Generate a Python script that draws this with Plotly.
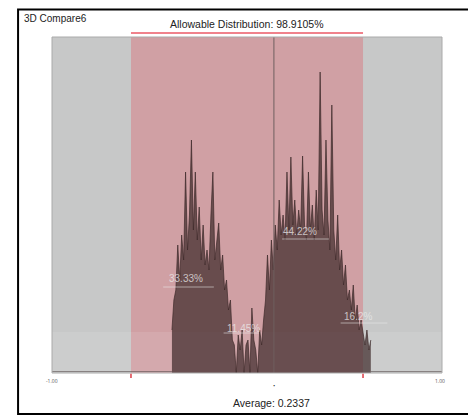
import plotly.graph_objects as go

# ---- data ----
bin_start = -0.385
bin_width = 0.01
counts = [43, 73, 83, 128, 93, 138, 113, 201, 123, 158, 233, 143, 201, 133, 166, 113,
          148, 108, 123, 103, 158, 201, 113, 133, 150, 103, 118, 83, 93, 63, 73, 33,
          28, 0, 38, 23, 43, 0, 28, 33, 0, 65, 33, 23, 0, 43, 28, 53,
          73, 118, 83, 133, 103, 148, 123, 173, 138, 158, 133, 201, 143, 216, 148, 173,
          138, 163, 143, 217, 148, 133, 201, 143, 168, 133, 183, 143, 301, 163, 138, 233,
          153, 123, 268, 143, 113, 158, 103, 123, 88, 108, 73, 83, 63, 88, 53, 68,
          43, 53, 38, 28, 43, 23, 33]
xs = [bin_start + bin_width * i for i in range(len(counts))]

tol_low, tol_high = -0.595, 0.595
marker_x = 0.138
average = 0.2337
allowable = 98.9105
x_min, x_max = -1.0, 1.0
y_max = 336

seg_labels = ["33.33%", "44.22%", "11.45%", "16.2%"]
seg_x = [-0.315, 0.27, -0.02, 0.57]
seg_y = [95, 142, 45, 57]
seg_line_x0 = [-0.43, 0.18, -0.12, 0.48]
seg_line_x1 = [-0.17, 0.42, 0.06, 0.72]
seg_line_y = [86, 134, 40, 50]

fig = go.Figure()

fig.add_trace(go.Scatter(
    x=xs, y=counts, mode="lines", line=dict(color="rgba(60,40,40,0.85)", width=0.8),
    fill="tozeroy", fillcolor="rgba(60,40,40,0.7)", hoverinfo="skip", showlegend=False))

# tails
fig.add_trace(go.Scatter(x=[x_min, bin_start], y=[1.5, 1.5], mode="lines",
                         line=dict(color="rgba(90,80,80,0.6)", width=1), showlegend=False))
fig.add_trace(go.Scatter(x=[xs[-1], x_max], y=[1.5, 1.5], mode="lines",
                         line=dict(color="rgba(90,80,80,0.6)", width=1), showlegend=False))

shapes = [
    dict(type="rect", xref="x", yref="paper", x0=tol_low, x1=tol_high, y0=0, y1=1,
         fillcolor="rgb(208,160,164)", line=dict(width=0), layer="below"),
    dict(type="rect", xref="paper", yref="y", x0=0, x1=1, y0=0, y1=41,
         fillcolor="rgba(255,255,255,0.1)", line=dict(width=0), layer="below"),
    dict(type="line", xref="x", yref="paper", x0=marker_x, x1=marker_x, y0=0, y1=1,
         line=dict(color="rgb(110,95,95)", width=1)),
    dict(type="line", xref="x", yref="paper", x0=tol_low, x1=tol_high, y0=1.012, y1=1.012,
         line=dict(color="rgb(240,130,140)", width=2)),
    dict(type="rect", xref="paper", yref="paper", x0=0, x1=1, y0=0, y1=1,
         line=dict(color="rgb(170,170,170)", width=1)),
    dict(type="rect", xref="paper", yref="paper", x0=-0.087, x1=1.077, y0=-0.122, y1=1.0815,
         line=dict(color="black", width=2)),
    dict(type="line", xref="x", yref="paper", x0=tol_low, x1=tol_low, y0=-0.002, y1=-0.015,
         line=dict(color="rgb(220,60,70)", width=1.5)),
    dict(type="line", xref="x", yref="paper", x0=tol_high, x1=tol_high, y0=-0.002, y1=-0.015,
         line=dict(color="rgb(220,60,70)", width=1.5)),
]
for x0, x1, yy in zip(seg_line_x0, seg_line_x1, seg_line_y):
    shapes.append(dict(type="line", xref="x", yref="y", x0=x0, x1=x1, y0=yy, y1=yy,
                       line=dict(color="rgba(235,235,235,0.55)", width=1)))

annotations = [
    dict(text="3D Compare6", xref="paper", yref="paper", x=-0.077, y=1.077,
         xanchor="left", yanchor="top", showarrow=False,
         font=dict(family="Liberation Sans, Arial", size=10, color="#222")),
    dict(text=f"Allowable Distribution: {allowable}%", xref="x", yref="paper",
         x=0.0, y=1.015, xanchor="center", yanchor="bottom", showarrow=False,
         font=dict(family="Liberation Sans, Arial", size=10.5, color="#222")),
    dict(text=f"Average: {average}", xref="x", yref="paper", x=0.125, y=-0.065,
         xanchor="center", yanchor="top", showarrow=False,
         font=dict(family="Liberation Sans, Arial", size=10.5, color="#222")),
    dict(text="•", xref="x", yref="paper", x=marker_x, y=-0.02,
         xanchor="center", yanchor="top", showarrow=False,
         font=dict(size=6, color="#333")),
    dict(text="-1.00", xref="x", yref="paper", x=x_min, y=-0.01, xanchor="center",
         yanchor="top", showarrow=False, font=dict(size=5, color="#555")),
    dict(text="1.00", xref="x", yref="paper", x=x_max - 0.01, y=-0.01, xanchor="center",
         yanchor="top", showarrow=False, font=dict(size=5, color="#555")),
]
for t, x, y in zip(seg_labels, seg_x, seg_y):
    annotations.append(dict(text=t, xref="x", yref="y", x=x, y=y, xanchor="center",
                            yanchor="middle", showarrow=False,
                            font=dict(family="Liberation Sans, Arial", size=10,
                                      color="rgba(235,235,235,0.75)")))

fig.update_layout(
    width=468, height=409,
    margin=dict(l=44, r=34, t=29, b=44),
    paper_bgcolor="white",
    plot_bgcolor="rgb(199,200,200)",
    shapes=shapes, annotations=annotations,
    xaxis=dict(range=[x_min, x_max], showgrid=False, zeroline=False, showticklabels=False,
               ticks="", fixedrange=True),
    yaxis=dict(range=[0, y_max], showgrid=False, zeroline=False, showticklabels=False,
               ticks="", fixedrange=True),
    showlegend=False,
)

fig.write_html("out.html")
